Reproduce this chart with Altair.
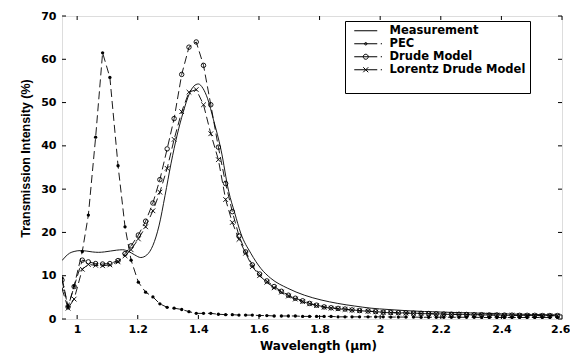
import altair as alt
import pandas as pd

# ---------------- data ----------------
model_x = [0.950, 0.970, 0.990, 1.017, 1.037, 1.061, 1.084, 1.108, 1.135, 1.158,
           1.178, 1.202, 1.226, 1.250, 1.273, 1.297, 1.320, 1.345, 1.369, 1.393,
           1.417, 1.441, 1.466, 1.490, 1.512, 1.534, 1.556, 1.578, 1.602, 1.626,
           1.650, 1.674, 1.697, 1.720, 1.744, 1.767, 1.790, 1.815, 1.838, 1.861,
           1.884, 1.907, 1.932, 1.960, 1.985, 2.010, 2.035, 2.060, 2.085, 2.110,
           2.135, 2.160, 2.185, 2.210, 2.235, 2.260, 2.285, 2.310, 2.335, 2.360,
           2.385, 2.410, 2.435, 2.460, 2.485, 2.510, 2.535, 2.560, 2.585]

pec_y = [9.5, 2.8, 7.6, 15.6, 24.0, 42.0, 61.5, 55.8, 35.4, 21.3,
         13.6, 8.5, 6.2, 5.1, 3.5, 2.7, 2.5, 2.2, 1.7, 1.3,
         1.3, 1.3, 1.1, 1.0, 1.0, 0.9, 0.9, 0.9, 0.8, 0.8,
         0.7, 0.7, 0.7, 0.7, 0.6, 0.6, 0.6, 0.6, 0.6, 0.5,
         0.5, 0.5, 0.5, 0.5, 0.5, 0.5, 0.45, 0.45, 0.45, 0.45,
         0.4, 0.4, 0.4, 0.4, 0.4, 0.4, 0.4, 0.4, 0.35, 0.35,
         0.35, 0.35, 0.35, 0.35, 0.35, 0.35, 0.35, 0.35, 0.35]

drude_y = [9.0, 2.8, 7.5, 13.6, 13.2, 12.8, 12.7, 12.8, 13.5, 15.1,
           16.9, 19.4, 22.6, 26.8, 32.2, 39.3, 46.3, 56.5, 62.8, 64.0,
           58.6, 49.5, 39.7, 31.3, 24.8, 19.2, 15.5, 12.5, 10.4, 8.8,
           7.5, 6.4, 5.5, 4.8, 4.2, 3.6, 3.2, 2.8, 2.6, 2.45,
           2.3, 2.1, 1.95, 1.85, 1.7, 1.55, 1.5, 1.45, 1.4, 1.35,
           1.3, 1.25, 1.2, 1.15, 1.1, 1.1, 1.05, 1.0, 1.0, 0.95,
           0.95, 0.9, 0.9, 0.85, 0.85, 0.85, 0.8, 0.8, 0.8]

lorentz_y = [7.0, 2.5, 4.6, 11.5, 12.6, 12.4, 12.3, 12.5, 13.2, 14.6,
             16.0, 18.5, 21.3, 25.0, 29.3, 34.8, 41.5, 47.9, 52.4, 53.0,
             49.5, 42.8, 36.8, 27.6, 22.3, 18.4, 15.2, 12.1, 10.0, 8.5,
             7.2, 6.2, 5.3, 4.6, 4.0, 3.5, 3.1, 2.7, 2.5, 2.35,
             2.2, 2.05, 1.9, 1.8, 1.65, 1.5, 1.45, 1.4, 1.35, 1.3,
             1.25, 1.2, 1.15, 1.1, 1.05, 1.05, 1.0, 0.95, 0.95, 0.9,
             0.9, 0.85, 0.85, 0.8, 0.8, 0.8, 0.75, 0.75, 0.75]

meas_x = [0.950, 0.960, 0.975, 0.990, 1.010, 1.030, 1.050, 1.070, 1.090, 1.110,
          1.130, 1.150, 1.170, 1.190, 1.210, 1.230, 1.250, 1.270, 1.290, 1.310,
          1.330, 1.350, 1.370, 1.385, 1.400, 1.415, 1.430, 1.450, 1.475, 1.500,
          1.520, 1.540, 1.573, 1.606, 1.639, 1.695, 1.750, 1.805, 1.860, 1.915,
          1.970, 2.026, 2.092, 2.200, 2.300, 2.400, 2.500, 2.600]
meas_y = [13.5, 14.3, 15.2, 15.6, 15.8, 15.7, 15.5, 15.4, 15.5, 15.7,
          15.9, 16.0, 15.6, 14.8, 14.2, 14.8, 17.0, 21.5, 28.5, 36.0,
          42.5, 47.8, 52.0, 53.8, 54.3, 53.3, 51.0, 46.0, 39.0, 29.5,
          24.5, 19.8, 15.2, 11.7, 9.4, 7.1, 5.5, 4.4, 3.6, 3.0,
          2.5, 2.2, 1.9, 1.6, 1.4, 1.2, 1.05, 0.95]

series_names = ["Measurement", "PEC", "Drude Model", "Lorentz Drude Model"]
x_ticks = [1.0, 1.2, 1.4, 1.6, 1.8, 2.0, 2.2, 2.4, 2.6]
y_ticks = [0, 10, 20, 30, 40, 50, 60, 70]

# ---------------- layout / style ----------------
W, H = 500, 303
TICK = 4
LW = 0.9

xs = alt.Scale(domain=[0.95, 2.6], nice=False, zero=False)
ys = alt.Scale(domain=[0, 70], nice=False, zero=False)

x_axis = alt.Axis(values=x_ticks, format="~g", title="Wavelength (μm)",
                  grid=False, ticks=False, tickSize=0, domain=False,
                  labelFont="DejaVu Sans", labelFontSize=11, labelFontWeight="bold",
                  labelColor="black", labelPadding=4,
                  labelFlush=1, labelFlushOffset=8,
                  titleFont="DejaVu Sans", titleFontSize=12, titleFontWeight="bold",
                  titleColor="black", titleX=256, titleY=26,
                  titleBaseline="middle", titleAlign="center")
y_axis = alt.Axis(values=y_ticks, format="d", title="Transmission Intensity (%)",
                  grid=False, ticks=False, tickSize=0, domain=False,
                  labelFont="DejaVu Sans", labelFontSize=11, labelFontWeight="bold",
                  labelColor="black", labelPadding=6, labelFlush=False,
                  titleFont="Liberation Sans", titleFontSize=12.5, titleFontWeight="bold",
                  titleColor="black", titleX=-37, titleY=142, titleAngle=270,
                  titleBaseline="middle", titleAlign="center")

X = alt.X("x:Q", scale=xs, axis=x_axis)
Y = alt.Y("y:Q", scale=ys, axis=y_axis)

meas_df = pd.DataFrame({"x": meas_x, "y": meas_y})
pec_df = pd.DataFrame({"x": model_x, "y": pec_y})
drude_df = pd.DataFrame({"x": model_x, "y": drude_y})
lor_df = pd.DataFrame({"x": model_x, "y": lorentz_y})
xt_df = pd.DataFrame({"x": x_ticks})
yt_df = pd.DataFrame({"y": y_ticks})

DASH = [8, 4]
CROSS = "M-1,-1L1,1M-1,1L1,-1"

meas_line = alt.Chart(meas_df).mark_line(color="black", strokeWidth=LW, clip=True,
                                         interpolate="monotone").encode(x=X, y=Y)
pec_line = alt.Chart(pec_df).mark_line(color="black", strokeWidth=LW, strokeDash=DASH,
                                       clip=True).encode(x=X, y=Y)
pec_pts = alt.Chart(pec_df).mark_point(shape="circle", filled=True, size=11, color="black",
                                       opacity=1, clip=True).encode(x=X, y=Y)
dr_line = alt.Chart(drude_df).mark_line(color="black", strokeWidth=LW, strokeDash=DASH,
                                        clip=True).encode(x=X, y=Y)
dr_pts = alt.Chart(drude_df).mark_point(shape="circle", filled=False, size=20, color="black",
                                        strokeWidth=0.9, opacity=1, clip=True).encode(x=X, y=Y)
lo_line = alt.Chart(lor_df).mark_line(color="black", strokeWidth=LW, strokeDash=DASH,
                                      clip=True).encode(x=X, y=Y)
lo_pts = alt.Chart(lor_df).mark_point(shape=CROSS, filled=False, size=22, color="black",
                                      strokeWidth=0.9, opacity=1, clip=True).encode(x=X, y=Y)

# inward ticks on all four sides (Matlab style box)
t_bottom = alt.Chart(xt_df).mark_rule(color="black", strokeWidth=1).encode(
    x=X, y=alt.value(H), y2=alt.value(H - TICK))
t_top = alt.Chart(xt_df).mark_rule(color="black", strokeWidth=1).encode(
    x=X, y=alt.value(0), y2=alt.value(TICK))
t_left = alt.Chart(yt_df).mark_rule(color="black", strokeWidth=1).encode(
    y=Y, x=alt.value(0), x2=alt.value(TICK))
t_right = alt.Chart(yt_df).mark_rule(color="black", strokeWidth=1).encode(
    y=Y, x=alt.value(W), x2=alt.value(W - TICK))

# legend: line sample + marker glyphs as symbol paths
legend_paths = [
    "M-2.3,0L2.3,0",
    "M-2.3,0L2.3,0M0.25,0A0.25,0.25 0 1,1 -0.25,0A0.25,0.25 0 1,1 0.25,0M3.0,0L3.25,0",
    "M-2.3,0L2.3,0M0.5,0A0.5,0.5 0 1,1 -0.5,0A0.5,0.5 0 1,1 0.5,0M3.0,0L3.25,0",
    "M-2.3,0L2.3,0M-0.5,-0.5L0.5,0.5M-0.5,0.5L0.5,-0.5M3.0,0L3.25,0",
    "M0,0",
]
leg_df = pd.DataFrame({"series": series_names})
legend_layer = alt.Chart(leg_df).mark_point(filled=False, color="black", opacity=1,
                                            clip=True).encode(
    x=alt.value(-60), y=alt.value(-60),
    shape=alt.Shape("series:N",
                    scale=alt.Scale(domain=series_names + [" "], range=legend_paths),
                    legend=alt.Legend(title=None, orient="none", direction="vertical",
                                      legendX=283, legendY=5,
                                      strokeColor="black", fillColor="white",
                                      padding=4, cornerRadius=0,
                                      symbolSize=100, symbolStrokeWidth=1,
                                      symbolStrokeColor="black",
                                      symbolFillColor="transparent",
                                      symbolOffset=11, labelOffset=18,
                                      labelFont="DejaVu Sans", labelFontSize=11.5,
                                      labelFontWeight="bold", labelColor="black",
                                      clipHeight=11.5, rowPadding=0, labelLimit=300)))

chart = alt.layer(
    meas_line, pec_line, dr_line, lo_line, pec_pts, dr_pts, lo_pts,
    t_bottom, t_top, t_left, t_right, legend_layer
).properties(
    width=W, height=H,
    autosize=alt.AutoSizeParams(type="none"),
    padding={"left": 62, "top": 16, "right": 8, "bottom": 34},
).configure_view(stroke="black", strokeWidth=1).configure(background="white")

chart.save("out.html", embed_options={"renderer": "svg", "actions": False})
